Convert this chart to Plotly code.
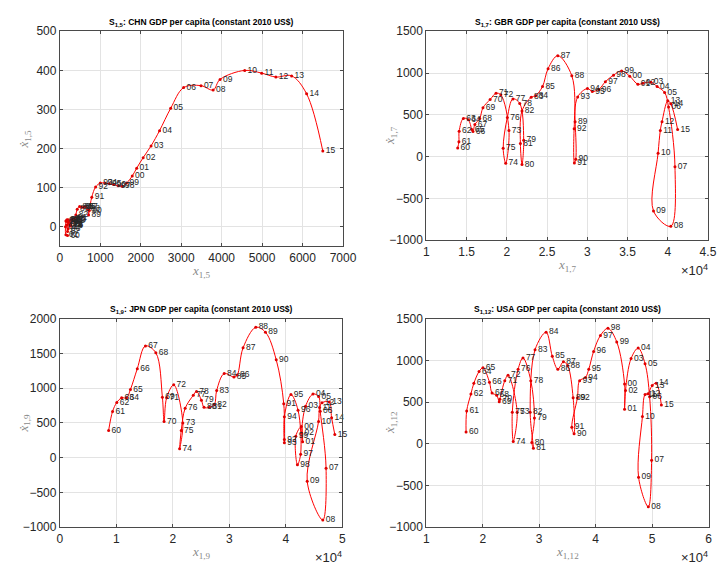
import plotly.graph_objects as go

years = list(range(1960, 2016))
year_labels = [f"{y % 100:02d}" for y in years]

# ---- CHN ----
chn_x = [190, 150, 140, 150, 175, 195, 205, 190, 180, 205,
         230, 240, 245, 255, 262, 272, 268, 285, 310, 330,
         350, 365, 395, 430, 490, 540, 585, 635, 690, 710,
         730, 790, 885, 1000, 1110, 1220, 1330, 1440, 1540, 1650,
         1790, 1900, 2060, 2255, 2465, 2740, 3060, 3490, 3790, 3960,
         4570, 4990, 5340, 5730, 6100, 6500]
chn_dx = [-22, -20, 0, 15, 18, 12, -5, -12, 5, 18,
          15, 8, 6, 10, 5, 5, 2, 18, 20, 15,
          18, 22, 30, 45, 52, 50, 50, 52, 45, 30,
          42, 76, 102, 112, 112, 110, 108, 105, 104, 112,
          130, 150, 177, 207, 246, 303, 356, 361, 350, 377,
          400, 393, 383, 386, 340, 194]

# ---- GBR ----
gbr_x = [13900, 14050, 14080, 14600, 15220, 15650, 15800, 16030, 16640, 17040,
         17930, 18660, 19260, 20270, 19870, 19550, 20070, 20760, 21610, 22100,
         21890, 21690, 21890, 23030, 23590, 24440, 25130, 26340, 28080, 28490,
         28570, 28400, 28370, 28810, 30020, 30630, 31440, 32250, 33260, 34270,
         35280, 36290, 36900, 37910, 38680, 39610, 40100, 40900, 40380, 38230,
         38800, 39080, 39290, 40010, 40380, 41230]
gbr_dx = [105, 180, 305, 458, 442, 325, 300, 384, 458, 586,
          684, 758, 740, 314, -80, 100, 470, 691, 637, 198,
          -94, 159, 547, 711, 730, 839, 1053, 1208, 967, 419,
          -30, -75, 334, 715, 815, 781, 805, 897, 975, 1026,
          963, 866, 878, 890, 839, 769, 594, -121, -833, -650,
          42, 314, 419, 668, 633, 326]

# ---- JPN ----
jpn_x = [8640, 9330, 10080, 10940, 11810, 12500, 13710, 15150, 16990, 18150,
         18450, 18900, 20160, 21770, 21200, 21490, 22180, 23620, 24190, 25060,
         25520, 26500, 27360, 27760, 29090, 30820, 31390, 32430, 34680, 36400,
         38300, 39630, 39740, 39740, 39740, 40900, 42160, 42620, 42050, 41760,
         42740, 42970, 42800, 43490, 44810, 45790, 46080, 47120, 46540, 43780,
         45790, 45970, 46400, 47690, 48100, 48670]
jpn_dx = [392, 664, 794, 860, 860, 981, 1280, 1607, 1509, 870,
          519, 860, 1047, 500, 130, 392, 710, 897, 953, 827,
          724, 724, 766, 967, 1210, 1159, 1187, 1579, 1874, 1804,
          1407, 776, 262, 215, 589, 907, 682, 51, -103, 308,
          449, 229, 355, 738, 916, 879, 668, -150, -897, -337,
          519, 720, 790, 799, 575, 332]

# ---- USA ----
usa_x = [17040, 17150, 17900, 18420, 19340, 20040, 21190, 21650, 22460, 22920,
         23030, 23900, 24480, 26090, 25400, 25230, 26260, 27130, 28510, 29150,
         28690, 28970, 28400, 29260, 31220, 32320, 33300, 34280, 35030, 36010,
         36180, 35780, 36760, 37160, 38200, 38780, 39640, 40850, 42180, 43740,
         45120, 45120, 45290, 46270, 47540, 48750, 49560, 49910, 49330, 47600,
         48290, 48750, 49270, 50020, 50720, 51640]
usa_dx = [141, 394, 597, 725, 865, 912, 737, 608, 581, 503,
          534, 756, 822, 378, 28, 378, 893, 1029, 756, 308,
          16, -55, 378, 1126, 1336, 1048, 893, 982, 939, 550,
          121, 199, 550, 756, 795, 893, 1107, 1298, 1383, 1220,
          717, 414, 639, 1021, 1146, 959, 562, -197, -755, -400,
          328, 589, 600, 698, 725, 464]

titles = ["S<sub>1,5</sub>: CHN GDP per capita (constant 2010 US$)",
          "S<sub>1,7</sub>: GBR GDP per capita (constant 2010 US$)",
          "S<sub>1,9</sub>: JPN GDP per capita (constant 2010 US$)",
          "S<sub>1,12</sub>: USA GDP per capita (constant 2010 US$)"]
subs = ["1,5", "1,7", "1,9", "1,12"]

chn_xticks = [0, 1000, 2000, 3000, 4000, 5000, 6000, 7000]
chn_xtext = ["0", "1000", "2000", "3000", "4000", "5000", "6000", "7000"]
chn_yticks = [0, 100, 200, 300, 400, 500]
gbr_xticks = [10000, 15000, 20000, 25000, 30000, 35000, 40000, 45000]
gbr_xtext = ["1", "1.5", "2", "2.5", "3", "3.5", "4", "4.5"]
gbr_yticks = [-1000, -500, 0, 500, 1000, 1500]
jpn_xticks = [0, 10000, 20000, 30000, 40000, 50000]
jpn_xtext = ["0", "1", "2", "3", "4", "5"]
jpn_yticks = [-1000, -500, 0, 500, 1000, 1500, 2000]
usa_xticks = [10000, 20000, 30000, 40000, 50000, 60000]
usa_xtext = ["1", "2", "3", "4", "5", "6"]
usa_yticks = [-1000, -500, 0, 500, 1000, 1500]

W, H = 725, 564
def px(x): return x / W
def py(y): return 1 - y / H

# panel boxes in pixels: left, right, top, bottom
boxes = [(50, 340, 16.7, 237.3), (425.3, 713.7, 16.7, 231),
         (50, 339.3, 311.3, 525.3), (425.3, 714.3, 311.3, 525.3)]

data = [(chn_x, chn_dx), (gbr_x, gbr_dx), (jpn_x, jpn_dx), (usa_x, usa_dx)]
xranges = [[0, 7000], [10000, 45000], [0, 50000], [10000, 60000]]
yranges = [[-50, 500], [-1000, 1500], [-1000, 2000], [-1000, 1500]]
xt = [(chn_xticks, chn_xtext), (gbr_xticks, gbr_xtext), (jpn_xticks, jpn_xtext), (usa_xticks, usa_xtext)]
yt = [chn_yticks, gbr_yticks, jpn_yticks, usa_yticks]

fig = go.Figure()
axcol = "#4a4a4a"
for i, ((xs, ys), box) in enumerate(zip(data, boxes)):
    n = "" if i == 0 else str(i + 1)
    fig.add_trace(go.Scatter(
        x=xs, y=ys, text=year_labels, mode="lines+markers+text",
        textposition="middle right", cliponaxis=False,
        textfont=dict(size=8.5, color="#262626", family="Liberation Sans, Arial"),
        line=dict(color="#ff0000", width=1, shape="spline", smoothing=1.0),
        marker=dict(color="#e00000", size=3),
        xaxis="x" + n, yaxis="y" + n, showlegend=False, hoverinfo="skip"))
    l, r, t, b = box
    common = dict(showgrid=True, gridcolor="#e3e3e3", gridwidth=1, zeroline=False,
                  showline=True, linecolor=axcol, linewidth=1, mirror="ticks",
                  ticks="inside", ticklen=3, tickcolor=axcol,
                  tickfont=dict(size=12, color="#262626", family="Liberation Sans, Arial"))
    fig.layout["xaxis" + n] = dict(domain=[px(l), px(r)], range=xranges[i],
                                   tickmode="array", tickvals=xt[i][0], ticktext=xt[i][1],
                                   anchor="y" + n, **common)
    fig.layout["yaxis" + n] = dict(domain=[py(b), py(t)], range=yranges[i],
                                   tickmode="array", tickvals=yt[i],
                                   anchor="x" + n, **common)
    cx = (l + r) / 2
    fig.add_annotation(x=px(cx), y=py(t - 9), xref="paper", yref="paper",
                       text="<b>" + titles[i] + "</b>", showarrow=False,
                       font=dict(size=8.5, color="#000000", family="Liberation Sans, Arial"),
                       xanchor="center", yanchor="middle")
    fig.add_annotation(x=px(cx), y=py(b + 26), xref="paper", yref="paper",
                       text="<i>x</i><sub>" + subs[i] + "</sub>", showarrow=False,
                       font=dict(size=13, color="#8a8a8a", family="Liberation Serif, DejaVu Serif"),
                       xanchor="center", yanchor="middle")
    fig.add_annotation(x=px(l - 36), y=py((t + b) / 2), xref="paper", yref="paper",
                       text="<i>x\u0307</i><sub>" + subs[i] + "</sub>", showarrow=False,
                       textangle=-90,
                       font=dict(size=13, color="#8a8a8a", family="Liberation Serif, DejaVu Serif"),
                       xanchor="center", yanchor="middle")
    if i > 0:
        fig.add_annotation(x=px(r - 14), y=py(b + 30), xref="paper", yref="paper",
                           text="\u00d710<sup>4</sup>", showarrow=False,
                           font=dict(size=13, color="#262626", family="Liberation Sans, Arial"),
                           xanchor="center", yanchor="middle")

fig.update_layout(width=W, height=H, margin=dict(l=0, r=0, t=0, b=0),
                  paper_bgcolor="white", plot_bgcolor="white")
fig.write_html("out.html")
